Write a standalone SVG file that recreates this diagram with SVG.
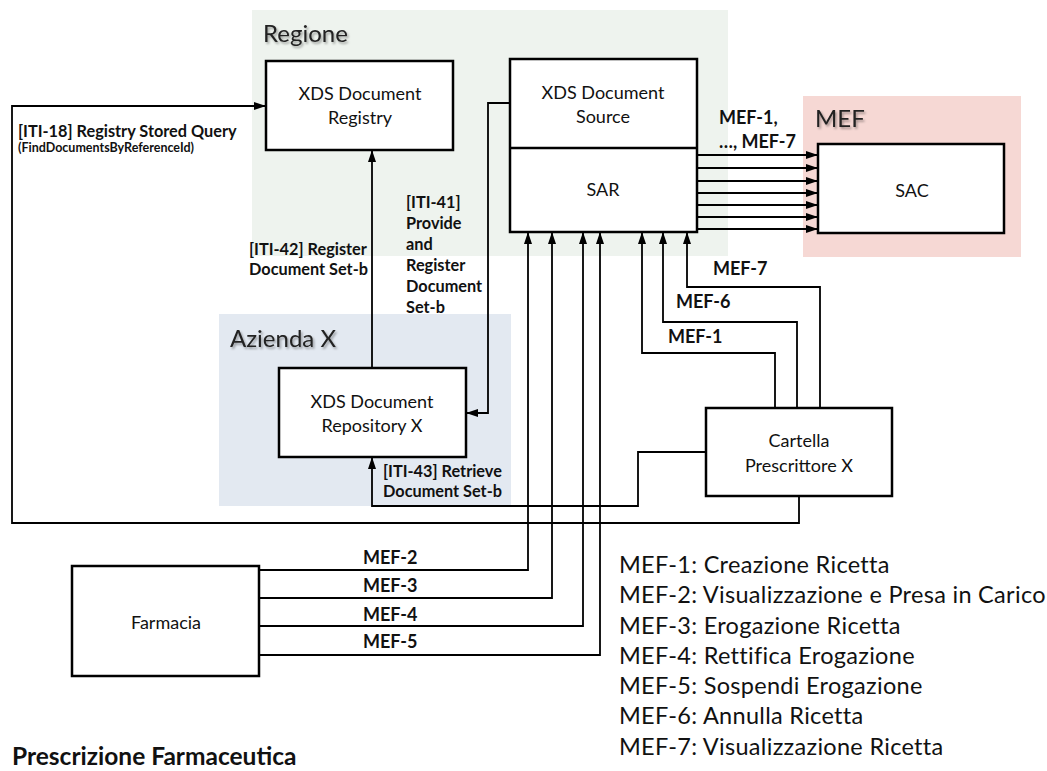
<svg xmlns="http://www.w3.org/2000/svg" width="1047" height="771" viewBox="0 0 1047 771">
<style>
.bg{stroke:none}
.box{fill:#fff;stroke:#000;stroke-width:2.5}
.c{fill:none;stroke:#000;stroke-width:1.8}
.t{font-family:Lato,"Liberation Sans",sans-serif;font-size:18px;fill:#111;text-anchor:middle}
.r{font-family:Lato,"Liberation Sans",sans-serif;font-size:24px;fill:#222;filter:url(#sh)}
.b{font-family:Lato,"Liberation Sans",sans-serif;font-size:16.3px;font-weight:bold;fill:#111}
.m{font-family:Lato,"Liberation Sans",sans-serif;font-size:18px;font-weight:bold;fill:#111}
.s{font-family:Lato,"Liberation Sans",sans-serif;font-size:12.5px;font-weight:bold;fill:#111}
.l{font-family:Lato,"Liberation Sans",sans-serif;font-size:23.5px;letter-spacing:0.3px;fill:#111}
</style>
<defs>
<marker id="arr" viewBox="0 0 12 8" refX="12" refY="4" markerWidth="12" markerHeight="8" markerUnits="userSpaceOnUse" orient="auto">
<path d="M0,0 L12,4 L0,8 z" fill="#000"/>
</marker>
<filter id="sh" x="-10%" y="-20%" width="130%" height="160%">
<feDropShadow dx="1.5" dy="2" stdDeviation="1.2" flood-color="#000" flood-opacity="0.35"/>
</filter>
</defs>
<rect width="1047" height="771" fill="#fff"/>
<g id="region-regione">
<rect class="bg" x="252" y="10" width="476" height="246" fill="#eef3ee"/>
<text class="r" x="263" y="42">Regione</text>
</g>
<g id="region-azienda">
<rect class="bg" x="219" y="314" width="292" height="192" fill="#e3e9f1"/>
<text class="r" x="230" y="347">Azienda X</text>
</g>
<g id="region-mef">
<rect class="bg" x="803" y="96" width="218" height="161" fill="#f6d8d4"/>
<text class="r" x="815" y="127">MEF</text>
</g>
<g id="connectors">
<path class="c" d="M799,496 V523 H12 V106 H266" marker-end="url(#arr)"/>
<path class="c" d="M372,368 V150" marker-end="url(#arr)"/>
<path class="c" d="M510,103 H488 V413 H466" marker-end="url(#arr)"/>
<path class="c" d="M706,452 H638 V506 H372 V457" marker-end="url(#arr)"/>
<path class="c" d="M697,155 H818" marker-end="url(#arr)"/>
<path class="c" d="M697,168 H818" marker-end="url(#arr)"/>
<path class="c" d="M697,181 H818" marker-end="url(#arr)"/>
<path class="c" d="M697,193 H818" marker-end="url(#arr)"/>
<path class="c" d="M697,205 H818" marker-end="url(#arr)"/>
<path class="c" d="M697,217 H818" marker-end="url(#arr)"/>
<path class="c" d="M697,229 H818" marker-end="url(#arr)"/>
<path class="c" d="M775,408 V353 H642 V232" marker-end="url(#arr)"/>
<path class="c" d="M797,408 V322 H663 V232" marker-end="url(#arr)"/>
<path class="c" d="M820,408 V287 H687 V232" marker-end="url(#arr)"/>
<path class="c" d="M259,570 H528 V232" marker-end="url(#arr)"/>
<path class="c" d="M259,598 H552 V232" marker-end="url(#arr)"/>
<path class="c" d="M259,626 H583 V232" marker-end="url(#arr)"/>
<path class="c" d="M259,655 H600 V232" marker-end="url(#arr)"/>
<text class="b" x="18" y="137">[ITI-18] Registry Stored Query</text>
<text class="s" x="18" y="152">(FindDocumentsByReferenceId)</text>
<text class="b" x="249" y="255">[ITI-42] Register</text>
<text class="b" x="249" y="275">Document Set-b</text>
<text class="b" x="406" y="208">[ITI-41]</text>
<text class="b" x="406" y="229">Provide</text>
<text class="b" x="406" y="250">and</text>
<text class="b" x="406" y="271">Register</text>
<text class="b" x="406" y="292">Document</text>
<text class="b" x="406" y="313">Set-b</text>
<text class="b" x="383" y="477">[ITI-43] Retrieve</text>
<text class="b" x="383" y="497">Document Set-b</text>
<text class="m" x="719" y="124">MEF-1,</text>
<text class="m" x="719" y="148">…, MEF-7</text>
<text class="m" x="713" y="275">MEF-7</text>
<text class="m" x="676" y="308">MEF-6</text>
<text class="m" x="668" y="343">MEF-1</text>
<text class="m" x="363" y="564">MEF-2</text>
<text class="m" x="363" y="592">MEF-3</text>
<text class="m" x="363" y="621">MEF-4</text>
<text class="m" x="363" y="648">MEF-5</text>
</g>
<g id="node-registry">
<rect class="box" x="266" y="61" width="187" height="89"/>
<text class="t" x="360" y="100">XDS Document</text>
<text class="t" x="360" y="124">Registry</text>
</g>
<g id="node-source-sar">
<rect class="box" x="510" y="59" width="187" height="173"/>
<line x1="510" y1="148" x2="697" y2="148" stroke="#000" stroke-width="2.5"/>
<text class="t" x="603" y="99">XDS  Document</text>
<text class="t" x="603" y="123">Source</text>
<text class="t" x="603" y="196">SAR</text>
</g>
<g id="node-sac">
<rect class="box" x="818" y="144" width="186" height="89"/>
<text class="t" x="912" y="197">SAC</text>
</g>
<g id="node-repository">
<rect class="box" x="279" y="368" width="187" height="89"/>
<text class="t" x="372" y="408">XDS  Document</text>
<text class="t" x="372" y="432">Repository X</text>
</g>
<g id="node-cartella">
<rect class="box" x="706" y="408" width="186" height="88"/>
<text class="t" x="799" y="447">Cartella</text>
<text class="t" x="799" y="472">Prescrittore X</text>
</g>
<g id="node-farmacia">
<rect class="box" x="72" y="566" width="187" height="110"/>
<text class="t" x="166" y="629">Farmacia</text>
</g>
<g id="legend">
<text class="l" x="619" y="573">MEF-1: Creazione Ricetta</text>
<text class="l" x="619" y="603">MEF-2: Visualizzazione e Presa in Carico</text>
<text class="l" x="619" y="634">MEF-3: Erogazione Ricetta</text>
<text class="l" x="619" y="664">MEF-4: Rettifica Erogazione</text>
<text class="l" x="619" y="694">MEF-5: Sospendi Erogazione</text>
<text class="l" x="619" y="724">MEF-6: Annulla Ricetta</text>
<text class="l" x="619" y="755">MEF-7: Visualizzazione Ricetta</text>
</g>
<text id="title" x="12" y="765" font-family="Lato,'Liberation Sans',sans-serif" font-size="24.5" font-weight="bold" fill="#111">Prescrizione Farmaceutica</text>
</svg>
